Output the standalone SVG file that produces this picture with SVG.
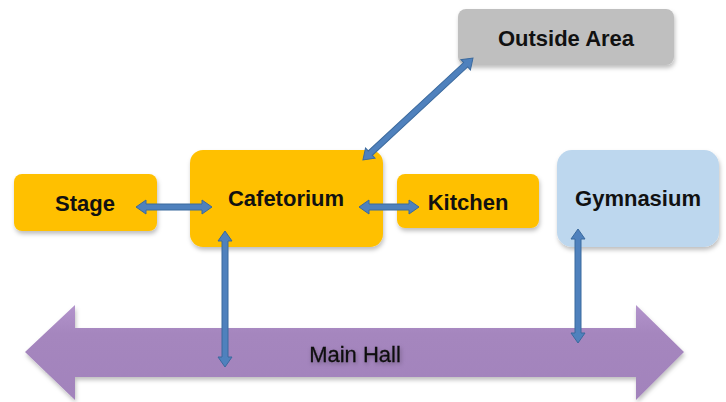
<svg xmlns="http://www.w3.org/2000/svg" width="726" height="402" viewBox="0 0 726 402">
<defs>
<filter id="sh" x="-20%" y="-20%" width="140%" height="150%">
<feDropShadow dx="1" dy="3" stdDeviation="2" flood-color="#000" flood-opacity="0.25"/>
</filter>
<filter id="tsh" x="-20%" y="-40%" width="140%" height="180%">
<feDropShadow dx="1" dy="2" stdDeviation="2" flood-color="#000" flood-opacity="0.3"/>
</filter>
<linearGradient id="pg" x1="0" y1="0" x2="0" y2="1">
<stop offset="0" stop-color="#b394cc"/>
<stop offset="0.3" stop-color="#a586be"/>
<stop offset="1" stop-color="#a283bc"/>
</linearGradient>
</defs>
<style>
.lbl{font-family:"Liberation Sans",Arial,sans-serif;font-weight:bold;font-size:22px;fill:#111;text-anchor:middle}
.hall{font-family:"Liberation Sans",Arial,sans-serif;font-size:22px;fill:#111;text-anchor:middle;stroke:#111;stroke-width:0.3}
.con{fill:#4f81bd;stroke:#3b6a9e;stroke-width:1}
</style>
<g id="main-hall">
<path d="M25,352 L75,305 L75,328 L636,328 L636,305 L684,352 L636,400 L636,377 L75,377 L75,400 Z" fill="url(#pg)" filter="url(#sh)"/>
<text class="hall" x="355" y="362" filter="url(#tsh)">Main Hall</text>
</g>
<g id="stage">
<rect x="14" y="174" width="143" height="57" rx="8" fill="#ffc000" filter="url(#sh)"/>
<text class="lbl" x="85" y="211">Stage</text>
</g>
<g id="cafetorium">
<rect x="190" y="150" width="193" height="97" rx="13" fill="#ffc000" filter="url(#sh)"/>
<text class="lbl" x="286" y="206">Cafetorium</text>
</g>
<g id="kitchen">
<rect x="397" y="174" width="142" height="54" rx="8" fill="#ffc000" filter="url(#sh)"/>
<text class="lbl" x="468" y="210">Kitchen</text>
</g>
<g id="outside-area">
<rect x="458" y="9" width="216" height="56" rx="8" fill="#bfbfbf" filter="url(#sh)"/>
<text class="lbl" x="566" y="46">Outside Area</text>
</g>
<g id="gymnasium">
<rect x="557" y="150" width="162" height="97" rx="15" fill="#bdd7ee" filter="url(#sh)"/>
<text class="lbl" x="638" y="206">Gymnasium</text>
</g>
<g id="connectors">
<path class="con" d="M136,207 L146,200 L146,204 L202,204 L202,200 L212,207 L202,214 L202,210 L146,210 L146,214 Z"/>
<path class="con" d="M359,207 L369,200 L369,204 L409,204 L409,200 L419,207 L409,214 L409,210 L369,210 L369,214 Z"/>
<path class="con" d="M225,231 L232,241 L228,241 L228,357 L232,357 L225,367 L218,357 L222,357 L222,241 L218,241 Z"/>
<path class="con" d="M578,229 L585,239 L581,239 L581,333 L585,333 L578,343 L571,333 L575,333 L575,239 L571,239 Z"/>
<path class="con" transform="translate(473,58) rotate(137.2)" d="M0,0 L10,-7 L10,-3 L140,-3 L140,-7 L150,0 L140,7 L140,3 L10,3 L10,7 Z"/>
</g>
</svg>
